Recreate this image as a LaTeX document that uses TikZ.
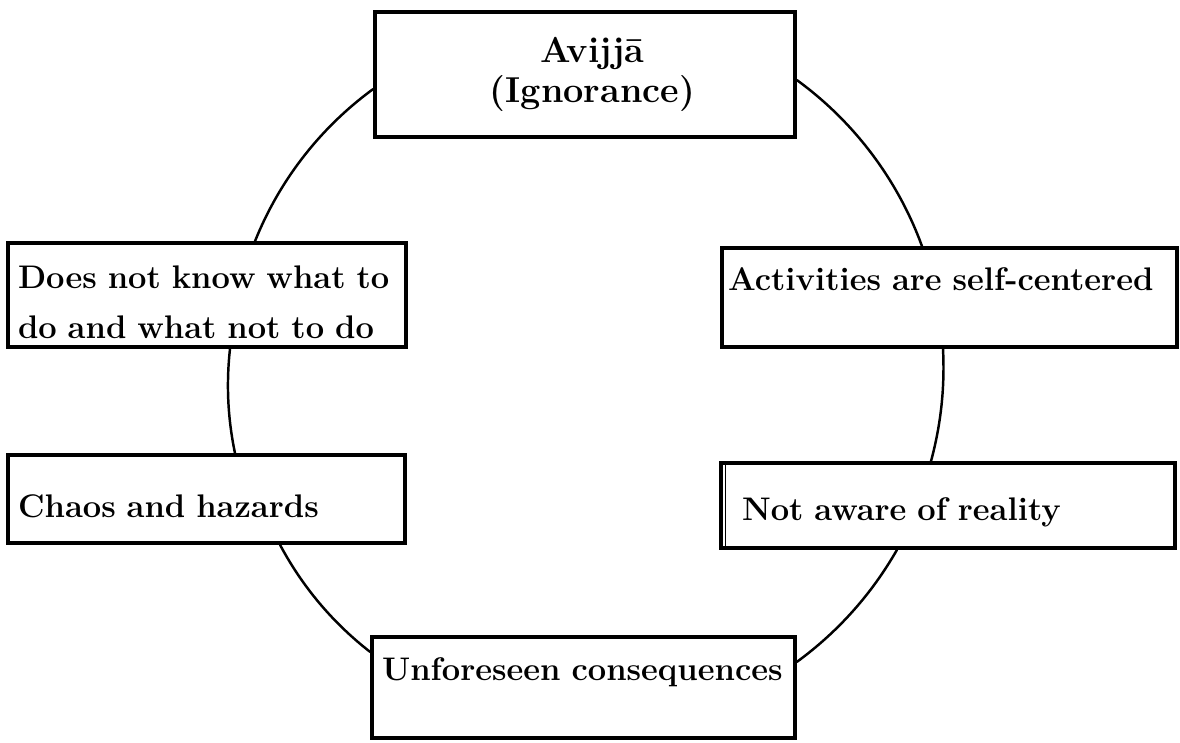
\documentclass[tikz,border=0pt]{standalone}
\usepackage{fontspec}
\usepackage{tikz}
\tikzstyle{stage} = [draw,line width=2pt,fill=white,align=left,inner xsep=0.2cm,font=\bfseries\fontsize{18.6}{28.5}\selectfont]
\tikzstyle{low} = [execute at begin node=\rule{0pt}{21pt}]
\tikzstyle{ring} = [line width=1.4pt,looseness=0.87]

\begin{document}
\begin{tikzpicture}
\useasboundingbox (0,0) rectangle (23.6,14.86);

\node[stage,align=center,text width=8cm,minimum height=2.5cm,font=\bfseries\fontsize{20.5}{22.5}\selectfont] (avijja) at (11.7,13.37) {\hspace*{0.3cm}Avijjā\\\hspace*{0.3cm}(Ignorance)};
\node[stage,low,text width=7.56cm,minimum height=2.08cm] (know) at (4.14,8.96) {Does not know what to\\do and what not to do};
\node[stage,low,inner xsep=0.12cm,text width=8.86cm,minimum height=1.98cm] (self) at (18.99,8.91) {Activities are self-centered\\\mbox{}};
\node[stage,low,text width=7.54cm,minimum height=1.76cm] (chaos) at (4.13,4.88) {Chaos and hazards};
\node[stage,low,inner xsep=0.42cm,text width=8.24cm,minimum height=1.7cm] (reality) at (18.96,4.75) {Not aware of reality};
\node[stage,low,inner xsep=0.2cm,text width=8.06cm,minimum height=2.02cm] (unforeseen) at (11.67,1.11) {\mbox{Unforeseen consequences}\\\mbox{}};

\draw[line width=0.6pt] ([xshift=0.12cm]reality.north west) -- ([xshift=0.12cm]reality.south west);

%arcs of the cycle, counterclockwise
\draw[ring] ([yshift=-0.29cm]avijja.west) to[bend right=16] ([xshift=0.96cm]know.north);
\draw[ring] ([xshift=0.46cm]know.south) to[bend right=9] ([xshift=0.57cm]chaos.north);
\draw[ring] ([xshift=1.47cm]chaos.south) to[bend right=12] ([yshift=0.71cm]unforeseen.west);
\draw[ring] ([yshift=0.51cm]unforeseen.east) to[bend right=12] ([xshift=-1.02cm]reality.south);
\draw[ring] ([xshift=-0.34cm]reality.north) to[bend right=9] ([xshift=-0.13cm]self.south);
\draw[ring] ([xshift=-0.55cm]self.north) to[bend right=17] ([yshift=-0.11cm]avijja.east);

\end{tikzpicture}
\end{document}
